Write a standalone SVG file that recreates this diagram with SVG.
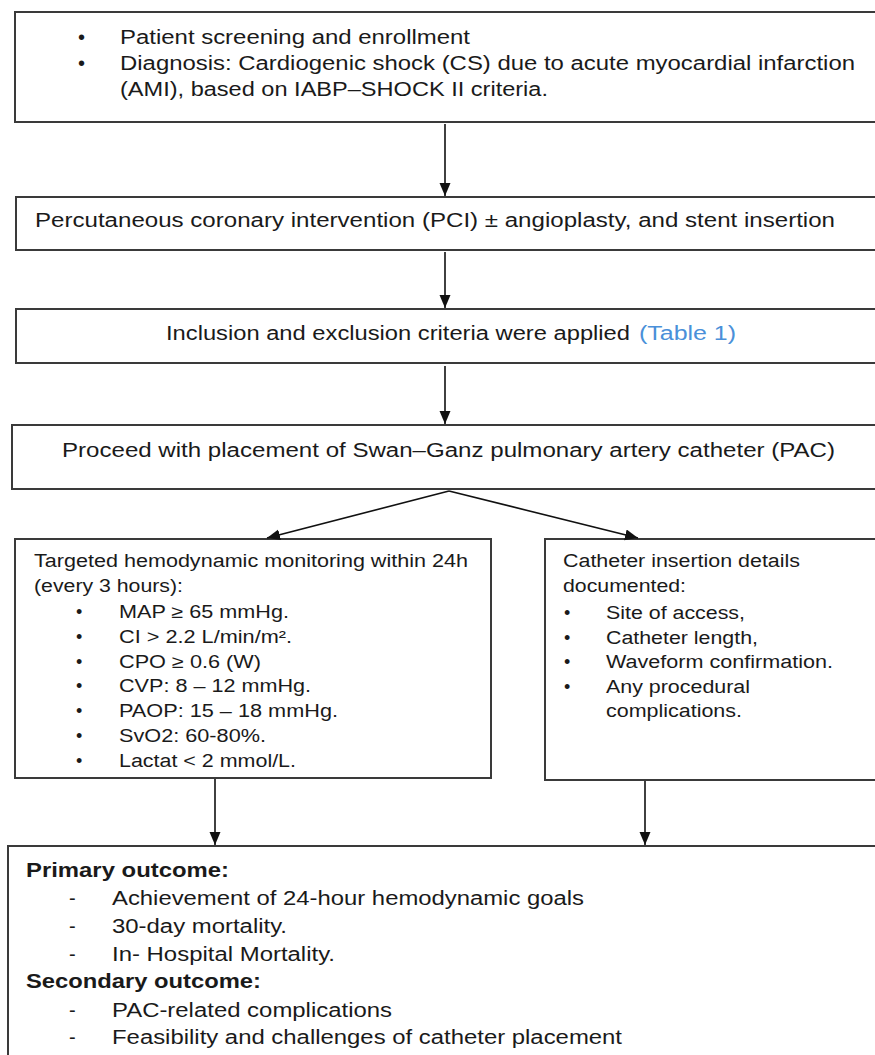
<svg xmlns="http://www.w3.org/2000/svg" width="875" height="1055" viewBox="0 0 875 1055">
<style>
.box{fill:#fff;stroke:#3a3a3a;stroke-width:2}
.t{font-family:"Liberation Sans",Arial,sans-serif;font-size:20px;fill:#1a1a1a}
.s{font-family:"Liberation Sans",Arial,sans-serif;font-size:18px;fill:#1a1a1a}
.b{font-weight:bold}
.link{fill:#4a90d9}
.conn{stroke:#111;stroke-width:1.6;fill:none;marker-end:url(#ah)}
</style>
<defs>
<marker id="ah" markerUnits="userSpaceOnUse" markerWidth="14" markerHeight="12" refX="13" refY="5.5" orient="auto">
<path d="M0,0 L13,5.5 L0,11 z" fill="#111"/>
</marker>
</defs>
<rect width="875" height="1055" fill="#fff"/>
<g id="node-screening">
<rect class="box" x="15" y="12" width="870" height="110"/>
<text class="t" x="78" y="44">•</text>
<text class="t" x="120" y="44" textLength="350" lengthAdjust="spacingAndGlyphs">Patient screening and enrollment</text>
<text class="t" x="78" y="70">•</text>
<text class="t" x="120" y="70" textLength="735" lengthAdjust="spacingAndGlyphs">Diagnosis: Cardiogenic shock (CS) due to acute myocardial infarction</text>
<text class="t" x="120" y="96" textLength="428" lengthAdjust="spacingAndGlyphs">(AMI), based on IABP–SHOCK II criteria.</text>
</g>
<g id="node-pci">
<rect class="box" x="16" y="197" width="870" height="53"/>
<text class="t" x="35" y="227" textLength="800" lengthAdjust="spacingAndGlyphs">Percutaneous coronary intervention (PCI) ± angioplasty, and stent insertion</text>
</g>
<g id="node-criteria">
<rect class="box" x="16" y="309" width="870" height="54"/>
<text class="t" x="166" y="340" textLength="464" lengthAdjust="spacingAndGlyphs">Inclusion and exclusion criteria were applied</text>
<text class="t link" x="639" y="340" textLength="97" lengthAdjust="spacingAndGlyphs">(Table 1)</text>
</g>
<g id="node-pac">
<rect class="box" x="12" y="425" width="870" height="64"/>
<text class="t" x="62" y="457" textLength="773" lengthAdjust="spacingAndGlyphs">Proceed with placement of Swan–Ganz pulmonary artery catheter (PAC)</text>
</g>
<g id="node-monitoring">
<rect class="box" x="15" y="539" width="476" height="239"/>
<text class="s" x="34" y="567" textLength="434" lengthAdjust="spacingAndGlyphs">Targeted hemodynamic monitoring within 24h</text>
<text class="s" x="34" y="592" textLength="149" lengthAdjust="spacingAndGlyphs">(every 3 hours):</text>
<text class="s" x="76" y="618">•</text>
<text class="s" x="119" y="618" textLength="170" lengthAdjust="spacingAndGlyphs">MAP ≥ 65 mmHg.</text>
<text class="s" x="76" y="643">•</text>
<text class="s" x="119" y="643" textLength="173" lengthAdjust="spacingAndGlyphs">CI &gt; 2.2 L/min/m².</text>
<text class="s" x="76" y="668">•</text>
<text class="s" x="119" y="668" textLength="142" lengthAdjust="spacingAndGlyphs">CPO ≥ 0.6 (W)</text>
<text class="s" x="76" y="692">•</text>
<text class="s" x="119" y="692" textLength="192" lengthAdjust="spacingAndGlyphs">CVP: 8 – 12 mmHg.</text>
<text class="s" x="76" y="717">•</text>
<text class="s" x="119" y="717" textLength="219" lengthAdjust="spacingAndGlyphs">PAOP: 15 – 18 mmHg.</text>
<text class="s" x="76" y="742">•</text>
<text class="s" x="119" y="742" textLength="147" lengthAdjust="spacingAndGlyphs">SvO2: 60-80%.</text>
<text class="s" x="76" y="767">•</text>
<text class="s" x="119" y="767" textLength="177" lengthAdjust="spacingAndGlyphs">Lactat &lt; 2 mmol/L.</text>
</g>
<g id="node-insertion">
<rect class="box" x="545" y="539" width="340" height="241"/>
<text class="s" x="563" y="567" textLength="237" lengthAdjust="spacingAndGlyphs">Catheter insertion details</text>
<text class="s" x="563" y="592" textLength="123" lengthAdjust="spacingAndGlyphs">documented:</text>
<text class="s" x="564" y="619">•</text>
<text class="s" x="606" y="619" textLength="139" lengthAdjust="spacingAndGlyphs">Site of access,</text>
<text class="s" x="564" y="644">•</text>
<text class="s" x="606" y="644" textLength="152" lengthAdjust="spacingAndGlyphs">Catheter length,</text>
<text class="s" x="564" y="668">•</text>
<text class="s" x="606" y="668" textLength="227" lengthAdjust="spacingAndGlyphs">Waveform confirmation.</text>
<text class="s" x="564" y="693">•</text>
<text class="s" x="606" y="693" textLength="144" lengthAdjust="spacingAndGlyphs">Any procedural</text>
<text class="s" x="606" y="717" textLength="136" lengthAdjust="spacingAndGlyphs">complications.</text>
</g>
<g id="node-outcomes">
<rect class="box" x="8" y="846" width="880" height="220"/>
<text class="t b" x="26" y="877" textLength="203" lengthAdjust="spacingAndGlyphs">Primary outcome:</text>
<text class="t" x="69" y="905">-</text>
<text class="t" x="112" y="905" textLength="472" lengthAdjust="spacingAndGlyphs">Achievement of 24-hour hemodynamic goals</text>
<text class="t" x="69" y="933">-</text>
<text class="t" x="112" y="933" textLength="175" lengthAdjust="spacingAndGlyphs">30-day mortality.</text>
<text class="t" x="69" y="961">-</text>
<text class="t" x="112" y="961" textLength="223" lengthAdjust="spacingAndGlyphs">In- Hospital Mortality.</text>
<text class="t b" x="26" y="988" textLength="235" lengthAdjust="spacingAndGlyphs">Secondary outcome:</text>
<text class="t" x="69" y="1017">-</text>
<text class="t" x="112" y="1017" textLength="280" lengthAdjust="spacingAndGlyphs">PAC-related complications</text>
<text class="t" x="69" y="1044">-</text>
<text class="t" x="112" y="1044" textLength="510" lengthAdjust="spacingAndGlyphs">Feasibility and challenges of catheter placement</text>
</g>
<g id="connectors">
<line class="conn" x1="445" y1="124" x2="445" y2="196"/>
<line class="conn" x1="445" y1="252" x2="445" y2="308"/>
<line class="conn" x1="445" y1="366" x2="445" y2="424"/>
<line class="conn" x1="449" y1="491" x2="267" y2="538"/>
<line class="conn" x1="449" y1="491" x2="638" y2="538"/>
<line class="conn" x1="215" y1="779" x2="215" y2="845"/>
<line class="conn" x1="645" y1="781" x2="645" y2="845"/>
</g>
</svg>
